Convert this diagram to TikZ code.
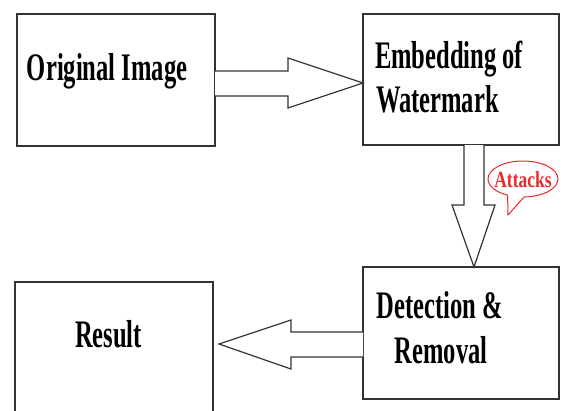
\documentclass[tikz,border=0pt]{standalone}
\usepackage{fontspec}
\setmainfont{Liberation Serif}[FakeStretch=0.63]
\newfontfamily\attfont{Liberation Serif}[FakeStretch=0.76]
\usetikzlibrary{shapes.callouts,calc}
\definecolor{linegray}{HTML}{333333}
\definecolor{attred}{HTML}{E62A2E}
\tikzset{
  stagebox/.style={draw=linegray, line width=1.5pt, fill=white, rectangle,
    inner sep=0pt, outer sep=0pt},
  blockarrow/.style={draw=linegray, line width=1.2pt, line join=miter, fill=white},
  lbl/.style={inner sep=0pt, outer sep=0pt, text=black,
    font=\fontsize{39}{44}\selectfont\bfseries},
  bubble/.style={ellipse callout, draw=attred, line width=1pt, fill=white,
    minimum width=70pt, minimum height=36pt, inner sep=0pt,
    callout pointer arc=28},
}
\begin{document}
\begin{tikzpicture}[x=1pt, y=-1pt]
  \useasboundingbox (0,0) rectangle (562,410);
  \clip (0,0) rectangle (562,410);
  \fill[white] (0,0) rectangle (562,410);

  % stages
  \node[stagebox, minimum width=198pt, minimum height=132pt] (orig) at (116,80) {};
  \node[stagebox, minimum width=196pt, minimum height=131pt] (emb)  at (461,79.5) {};
  \node[stagebox, minimum width=196pt, minimum height=132pt] (det)  at (461,333) {};
  \node[stagebox, minimum width=198pt, minimum height=133pt] (res)  at (114,348.5) {};

  % stage labels
  \node[lbl, anchor=base west] (lorig) at (27,80) {Original Image};
  \node[lbl, anchor=base west] (lemb1) at (375,68) {Embedding of};
  \node[lbl, anchor=base west] (lemb2) at (376,112) {Watermark};
  \node[lbl, anchor=base] (ldet1) at (440,318) {Detection \&};
  \node[lbl, anchor=base] (ldet2) at (441,363) {Removal};
  \node[lbl, anchor=base west] (lres) at (75,347) {Result};

  % block arrows between stages
  \draw[blockarrow] (orig.east |- 0,71) -- (288,71) -- (288,58)
    -- (emb.west |- 0,83) -- (288,108) -- (288,96) -- (orig.east |- 0,96);
  \draw[blockarrow] (emb.south -| 464,0) -- (464,205) -- (452,205)
    -- (det.north -| 474,0) -- (495,205) -- (484,205) -- (emb.south -| 484,0);
  \coordinate (restip) at ($(res.east)+(6,-4.5)$);
  \draw[blockarrow] (det.west |- 0,332) -- (291,332) -- (291,320)
    -- (restip) -- (291,369) -- (291,357) -- (det.west |- 0,357);

  % attack callout
  \coordinate (attptr) at (508,215);
  \node[bubble, callout absolute pointer={(attptr)}] (att) at (523,179) {};
  \node[inner sep=0pt, anchor=base, text=attred,
    font=\attfont\fontsize{23}{25}\selectfont\bfseries] (latt) at (523,187.5) {Attacks};
\end{tikzpicture}
\end{document}
